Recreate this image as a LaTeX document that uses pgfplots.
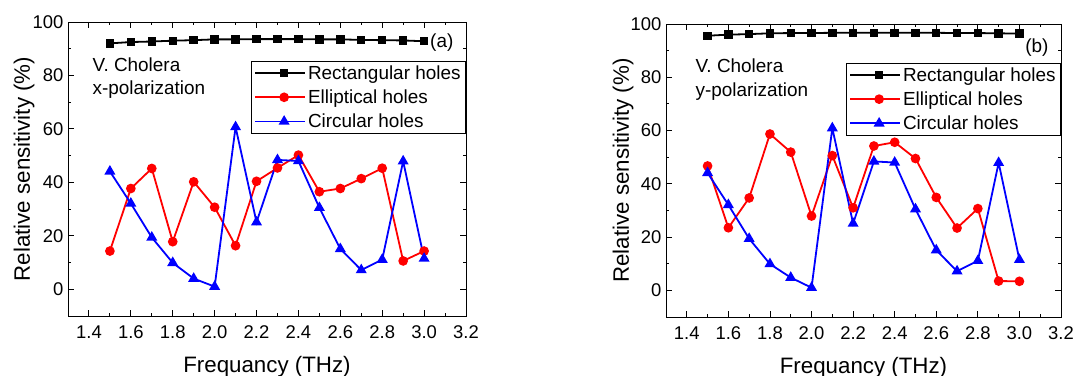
\documentclass[border=0pt]{standalone}
\usepackage{fontspec}
\setmainfont{Liberation Sans}
\usepackage{pgfplots}
\pgfplotsset{compat=1.18}

\pgfplotstableread{
x rect ell circ
1.5 92.0 14.3 44.1
1.6 92.5 37.7 32.1
1.7 92.7 45.2 19.4
1.8 93.0 17.8 9.9
1.9 93.2 40.2 4.0
2.0 93.5 30.7 1.0
2.1 93.5 16.3 60.7
2.2 93.6 40.4 25.1
2.3 93.6 45.4 48.4
2.4 93.6 50.2 48.0
2.5 93.5 36.5 30.5
2.6 93.5 37.7 15.1
2.7 93.3 41.4 7.2
2.8 93.2 45.3 11.1
2.9 93.1 10.6 47.9
3.0 92.8 14.3 11.5
}\dataA

\pgfplotstableread{
x rect ell circ
1.5 95.6 46.7 44.1
1.6 96.0 23.5 32.1
1.7 96.2 34.7 19.4
1.8 96.5 58.7 9.9
1.9 96.6 51.9 4.8
2.0 96.6 27.9 1.0
2.1 96.7 50.6 60.9
2.2 96.7 31.0 25.1
2.3 96.7 54.2 48.4
2.4 96.7 55.6 48.0
2.5 96.7 49.5 30.5
2.6 96.7 34.9 15.1
2.7 96.6 23.4 7.2
2.8 96.6 30.7 11.1
2.9 96.5 3.5 47.9
3.0 96.4 3.4 11.5
}\dataB

\pgfplotsset{
  panel/.style={
    scale only axis,
    xmin=1.3, xmax=3.2, ymin=-10, ymax=100,
    xtick={1.4,1.6,...,3.21},
    ytick={0,20,...,100},
    minor x tick num=1, minor y tick num=1,
    tick align=inside,
    major tick length=6bp, minor tick length=3bp,
    axis line style={line width=0.9bp},
    every tick/.style={black, line width=0.9bp},
    tick label style={font=\fontsize{18.5}{21}\selectfont},
    x tick label style={/pgf/number format/fixed, /pgf/number format/fixed zerofill, /pgf/number format/precision=1, yshift=-6bp},
    /pgf/number format/assume math mode=true,
    y tick label style={xshift=-1bp},
    label style={font=\fontsize{22.4}{26}\selectfont},
    xlabel={Frequancy (THz)},
    ylabel={Relative sensitivity (\%)},
    xlabel style={at={(axis description cs:0.5,0)}, anchor=base, yshift=-56bp},
    legend cell align=left,
    legend style={draw=black, line width=0.8bp, font=\fontsize{19}{22}\selectfont,
      at={(1,0.867)}, anchor=north east, inner xsep=3bp, inner ysep=2bp,
      row sep=5bp},
    legend image code/.code={\path (-8bp,0bp) -- (42bp,0bp);
      \draw[mark repeat=2,mark phase=2] plot coordinates {(0bp,0bp) (21bp,0bp) (42bp,0bp)};},
    every axis plot/.append style={line width=1.8bp},
  },
  rectS/.style={black, mark=square*, mark size=3.3bp, mark options={solid}},
  ellS/.style={red, mark=*, mark size=3.9bp},
  circS/.style={blue, mark=triangle*, mark size=4.6bp},
}

\begin{document}
\begin{tikzpicture}
\path[use as bounding box] (0,0) rectangle (1073bp,376bp);

\begin{axis}[panel, at={(68bp,60bp)}, anchor=south west, width=398bp, height=294bp,
  ylabel style={at={(axis description cs:-0.0955,0.5)}, anchor=base, rotate=0}]
\addplot[rectS] table[x=x,y=rect] {\dataA};
\addplot[ellS] table[x=x,y=ell] {\dataA};
\addplot[circS] table[x=x,y=circ] {\dataA};
\legend{Rectangular holes, Elliptical holes, Circular holes}
\node[anchor=base west, font=\fontsize{19}{22}\selectfont] at (axis description cs:0.053,0.830) {V. Cholera};
\node[anchor=base west, font=\fontsize{19}{22}\selectfont] at (axis description cs:0.053,0.752) {x-polarization};
\node[anchor=east, font=\fontsize{19}{22}\selectfont] at (axis description cs:0.977,0.929) {(a)};
\end{axis}

\begin{axis}[panel, at={(666bp,59bp)}, anchor=south west, width=395bp, height=293bp,
  ylabel style={at={(axis description cs:-0.0937,0.5)}, anchor=base, rotate=0}]
\addplot[rectS] table[x=x,y=rect] {\dataB};
\addplot[ellS] table[x=x,y=ell] {\dataB};
\addplot[circS] table[x=x,y=circ] {\dataB};
\legend{Rectangular holes, Elliptical holes, Circular holes}
\node[anchor=base west, font=\fontsize{19}{22}\selectfont] at (axis description cs:0.066,0.833) {V. Cholera};
\node[anchor=base west, font=\fontsize{19}{22}\selectfont] at (axis description cs:0.066,0.754) {y-polarization};
\node[anchor=east, font=\fontsize{19}{22}\selectfont] at (axis description cs:0.977,0.921) {(b)};
\end{axis}
\end{tikzpicture}
\end{document}
